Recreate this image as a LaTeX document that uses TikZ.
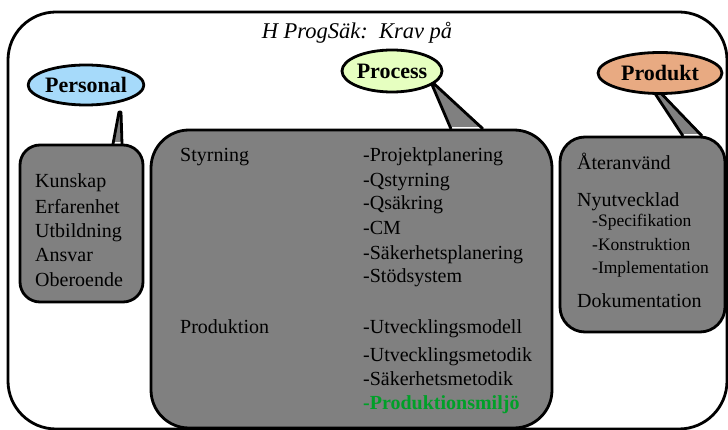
\documentclass[tikz,border=0pt]{standalone}
\usepackage{fontspec}
\setmainfont{Liberation Serif}
\usetikzlibrary{shapes.geometric}
\definecolor{pblue}{RGB}{166,218,250}
\definecolor{pgreen}{RGB}{230,255,192}
\definecolor{porange}{RGB}{232,170,130}
\definecolor{boxgray}{RGB}{128,128,128}
\definecolor{txtgreen}{RGB}{0,160,40}
\begin{document}
\begin{tikzpicture}[x=1pt,y=-1pt,line join=round,
  outline/.style={draw=black,line width=2.8pt},
  bubble/.style={ellipse,outline,inner sep=0pt,font=\fontsize{22}{24}\selectfont\bfseries},
  txt/.style={anchor=base west,inner sep=0pt,font=\fontsize{20}{24}\selectfont},
  smalltxt/.style={anchor=base west,inner sep=0pt,font=\fontsize{17.5}{20}\selectfont}]
\useasboundingbox (0,0) rectangle (728,430);
\clip (0,0) rectangle (728,430);
\fill[white] (0,0) rectangle (728,430);
% outer frame
\draw[outline,rounded corners=48pt] (8,12) rectangle (727,429);
\node[font=\fontsize{22.5}{24}\selectfont\itshape,inner sep=0pt] (title) at (357,33) {H ProgSäk:\ \ Krav på};

% Personal callout
\draw[outline,fill=boxgray,rounded corners=20pt] (20,145) rectangle (143,302);
\coordinate (pa) at (113,145);
\coordinate (pt1) at (119,112);
\coordinate (pt2) at (121,112);
\coordinate (pb) at (122,145);
\fill[boxgray] ([yshift=3pt]pa) -- (pt1) -- (pt2) -- ([yshift=3pt]pb) -- cycle;
\draw[outline] ([yshift=1pt]pa) -- (pt1) -- (pt2) -- ([yshift=1pt]pb);

% Process callout
\draw[outline,fill=boxgray,rounded corners=38pt] (151,130) rectangle (552,428);
\coordinate (qa) at (451,130);
\coordinate (qt) at (430,80);
\coordinate (qb) at (483,130);
\fill[boxgray] ([yshift=3pt]qa) -- (qt) -- ([yshift=3pt]qb) -- cycle;
\draw[outline] ([yshift=1pt]qa) -- (qt) -- ([yshift=1pt]qb);

% Produkt callout
\draw[outline,fill=boxgray,rounded corners=25pt] (560,137) rectangle (725,332);
\coordinate (ra) at (683,137);
\coordinate (rt1) at (650,86);
\coordinate (rt2) at (654,86);
\coordinate (rb) at (702,137);
\fill[boxgray] ([yshift=3pt]ra) -- (rt1) -- (rt2) -- ([yshift=3pt]rb) -- cycle;
\draw[outline] ([yshift=1pt]ra) -- (rt1) -- (rt2) -- ([yshift=1pt]rb);

% bubbles
\node[bubble,fill=pblue,minimum width=108pt,minimum height=40pt] (personal) at (86,85) {Personal};
\node[bubble,fill=pgreen,minimum width=100pt,minimum height=42pt] (process) at (392,71) {Process};
\node[bubble,fill=porange,minimum width=124pt,minimum height=41pt] (produkt) at (660,73) {Produkt};

% Personal texts
\node[txt] (k1) at (35,188) {Kunskap};
\node[txt] (k2) at (35,214) {Erfarenhet};
\node[txt] (k3) at (35,238) {Utbildning};
\node[txt] (k4) at (35,262) {Ansvar};
\node[txt] (k5) at (35,287) {Oberoende};

% Process texts
\node[txt] (styr) at (180,162) {Styrning};
\node[txt] (s1) at (363,162) {-Projektplanering};
\node[txt] (s2) at (363,187) {-Qstyrning};
\node[txt] (s3) at (363,210) {-Qsäkring};
\node[txt] (s4) at (363,235) {-CM};
\node[txt] (s5) at (363,260) {-Säkerhetsplanering};
\node[txt] (s6) at (363,283) {-Stödsystem};
\node[txt] (prod) at (180,334) {Produktion};
\node[txt] (p1) at (363,334) {-Utvecklingsmodell};
\node[txt] (p2) at (363,361) {-Utvecklingsmetodik};
\node[txt] (p3) at (363,385) {-Säkerhetsmetodik};
\node[txt,text=txtgreen,font=\fontsize{20}{24}\selectfont\bfseries] (p4) at (363,409) {-Produktionsmiljö};

% Produkt texts
\node[txt] (a1) at (577,170) {Återanvänd};
\node[txt] (a2) at (577,207) {Nyutvecklad};
\node[smalltxt] (a3) at (592,227) {-Specifikation};
\node[smalltxt] (a4) at (592,251) {-Konstruktion};
\node[smalltxt] (a5) at (592,273) {-Implementation};
\node[txt] (a6) at (577,308) {Dokumentation};
\end{tikzpicture}
\end{document}
